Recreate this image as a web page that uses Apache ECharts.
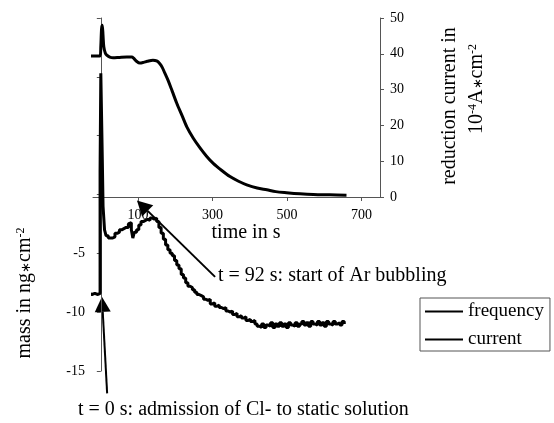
<!DOCTYPE html>
<html>
<head>
<meta charset="utf-8">
<script src="https://cdn.jsdelivr.net/npm/echarts@6/dist/echarts.min.js"></script>
<style>
html, body { margin: 0; padding: 0; background: #fff; }
#chart { width: 554px; height: 423px; }
</style>
</head>
<body>
<div id="chart"></div>
<script>
// time axis in s
const timeRange = [-21, 750]
const timeTicks = [100, 300, 500, 700]

// reduction current in 10^-4 A*cm^-2
const currentRange = [0, 50]
const currentTime = [-48, -20, -2, 0, 2, 4, 6, 8, 12, 16, 24, 33, 50, 70, 83, 88, 95, 105, 115, 125, 140, 150, 158, 165, 172, 181, 192, 204, 218, 231, 248, 266, 284, 302, 325, 347, 370, 392, 420, 446, 470, 499, 535, 571, 615, 660]
const currentValue = [39.4, 39.4, 39.4, 42, 47, 48, 45, 42, 40.2, 39.6, 39.1, 38.9, 39.0, 39.1, 39.1, 38.8, 38.0, 37.4, 37.6, 37.9, 38.2, 38.0, 37.3, 36.2, 34.6, 32.5, 29.5, 26.2, 22.8, 19.6, 16.5, 13.8, 11.4, 9.4, 7.4, 5.7, 4.4, 3.4, 2.5, 2.0, 1.5, 1.2, 0.9, 0.7, 0.6, 0.5]

// mass in ng*cm^-2 (from frequency)
const massRange = [-15, 15]
const massTime = [-48, -40, -32, -24, -16, -8, -4, -2, 0, 2, 4, 6, 10, 14, 20, 26, 32, 38, 44, 50, 56, 62, 68, 74, 78, 82, 86, 90, 96, 102, 108, 114, 120, 126, 132, 138, 144, 150, 156, 162, 168, 174, 180, 186, 192, 198, 204, 210, 216, 222, 228, 234, 240, 246, 252, 258, 264, 270, 276, 282, 288, 294, 300, 306, 312, 318, 324, 330, 336, 342, 348, 354, 360, 366, 372, 378, 384, 390, 396, 402, 408, 414, 420, 426, 432, 438, 444, 450, 456, 462, 468, 474, 480, 486, 492, 498, 504, 510, 516, 522, 528, 534, 540, 546, 552, 558, 564, 570, 576, 582, 588, 594, 600, 606, 612, 618, 624, 630, 636, 642, 648, 654]
const massValue = [-8.5, -8.4, -8.5, -8.4, -8.5, -8.5, -8.4, 2.0, 10.3, 10.3, 3.0, -1.0, -3.0, -3.5, -3.7, -3.7, -3.6, -3.3, -3.2, -3.0, -2.9, -2.8, -2.8, -2.5, -2.4, -3.0, -3.7, -3.2, -3.0, -2.6, -2.3, -2.2, -2.1, -2.2, -2.0, -2.1, -2.0, -2.3, -2.8, -3.3, -3.8, -4.3, -4.7, -5.0, -5.2, -5.6, -6.0, -6.3, -6.8, -7.1, -7.5, -7.8, -7.9, -8.1, -8.3, -8.5, -8.6, -8.7, -8.9, -9.0, -8.9, -9.3, -9.2, -9.5, -9.4, -9.6, -9.7, -9.6, -9.9, -10.0, -9.9, -10.2, -10.1, -10.4, -10.3, -10.5, -10.4, -10.7, -10.6, -10.8, -10.7, -11.0, -11.2, -11.3, -11.0, -11.3, -11.1, -11.2, -10.9, -11.3, -11.0, -11.2, -10.9, -11.2, -11.0, -11.3, -10.9, -11.1, -11.2, -10.9, -11.2, -11.0, -10.8, -11.1, -10.9, -11.2, -10.8, -11.0, -11.1, -10.8, -11.1, -10.9, -11.2, -10.8, -11.0, -11.1, -10.8, -11.0, -10.9, -11.1, -10.8, -11.0]

// annotation arrows as (time, mass): tail, tip
const arArrow = [[307, -7.0], [97, -0.5]]
const clArrow = [[17, -16.9], [3, -8.7]]

const serif = '"Liberation Serif", "Times New Roman", serif'
const axisGray = '#555'

const chart = echarts.init(document.getElementById('chart'))

chart.setOption({
  animation: false,
  backgroundColor: '#fff',
  textStyle: { fontFamily: serif, color: '#000' },
  grid: [
    { left: 93, right: 174, top: 18, height: 179 },
    { left: 93, right: 174, top: 18, height: 353 }
  ],
  legend: {
    data: ['frequency', 'current'],
    orient: 'vertical',
    left: 420,
    top: 298,
    icon: 'rect',
    itemWidth: 38,
    itemHeight: 2,
    itemGap: 9,
    padding: [4, 6, 2, 5],
    borderColor: axisGray,
    borderWidth: 1,
    backgroundColor: '#fff',
    textStyle: { fontFamily: serif, fontSize: 19, color: '#000' }
  },
  xAxis: [
    {
      type: 'value',
      gridIndex: 0,
      min: timeRange[0],
      max: timeRange[1],
      position: 'bottom',
      splitLine: { show: false },
      axisLine: { onZero: false, lineStyle: { color: axisGray, width: 1 } },
      axisTick: { customValues: timeTicks, length: 4, lineStyle: { color: axisGray } },
      axisLabel: { customValues: timeTicks, margin: 11, fontSize: 14, fontFamily: serif, color: '#000' }
    },
    {
      type: 'value',
      gridIndex: 1,
      min: timeRange[0],
      max: timeRange[1],
      show: false,
      axisLine: { onZero: false }
    }
  ],
  yAxis: [
    {
      type: 'value',
      gridIndex: 0,
      position: 'right',
      min: currentRange[0],
      max: currentRange[1],
      interval: 10,
      splitLine: { show: false },
      axisLine: { show: true, onZero: false, lineStyle: { color: axisGray, width: 1 } },
      axisTick: { show: true, length: 4, lineStyle: { color: axisGray } },
      axisLabel: { margin: 10, fontSize: 14, fontFamily: serif, color: '#000' }
    },
    {
      type: 'value',
      gridIndex: 1,
      position: 'left',
      min: massRange[0],
      max: massRange[1],
      interval: 5,
      splitLine: { show: false },
      axisLine: { show: true, onZero: true, lineStyle: { color: axisGray, width: 1 } },
      axisTick: { show: true, length: 4, lineStyle: { color: axisGray } },
      axisLabel: {
        margin: 8,
        fontSize: 14,
        fontFamily: serif,
        color: '#000',
        formatter: v => (v < 0 ? String(v) : '')
      }
    }
  ],
  series: [
    {
      name: 'frequency',
      type: 'line',
      xAxisIndex: 1,
      yAxisIndex: 1,
      step: 'end',
      symbol: 'none',
      clip: false,
      lineStyle: { color: '#000', width: 3 },
      itemStyle: { color: '#000' },
      data: massTime.map((t, i) => [t, massValue[i]])
    },
    {
      name: 'current',
      type: 'line',
      xAxisIndex: 0,
      yAxisIndex: 0,
      smooth: 0.3,
      symbol: 'none',
      clip: false,
      lineStyle: { color: '#000', width: 3 },
      itemStyle: { color: '#000' },
      data: currentTime.map((t, i) => [t, currentValue[i]])
    }
  ]
})

function arrow(pts) {
  const a = chart.convertToPixel({ gridIndex: 1 }, pts[0])
  const b = chart.convertToPixel({ gridIndex: 1 }, pts[1])
  const dx = b[0] - a[0]
  const dy = b[1] - a[1]
  const len = Math.hypot(dx, dy)
  const ux = dx / len
  const uy = dy / len
  const hl = 15
  const hw = 8
  const bx = b[0] - ux * hl
  const by = b[1] - uy * hl
  return [
    {
      type: 'line',
      shape: { x1: a[0], y1: a[1], x2: bx, y2: by },
      style: { stroke: '#000', lineWidth: 2 }
    },
    {
      type: 'polygon',
      shape: { points: [b, [bx - uy * hw, by + ux * hw], [bx + uy * hw, by - ux * hw]] },
      style: { fill: '#000' }
    }
  ]
}

const font20 = '20px ' + serif
const rich = {
  sup: { fontSize: 12, fontFamily: serif, verticalAlign: 'top', fill: '#000' },
  dot: { fontSize: 13, fontFamily: serif, verticalAlign: 'bottom', fill: '#000', padding: [0, 0, 2, 0] }
}

chart.setOption({
  graphic: [
    ...arrow(arArrow),
    ...arrow(clArrow),
    {
      type: 'text',
      x: 246,
      y: 233,
      style: { text: 'time in s', font: font20, fill: '#000', align: 'center', verticalAlign: 'middle' }
    },
    {
      type: 'text',
      x: 25,
      y: 293,
      rotation: Math.PI / 2,
      style: {
        text: 'mass in ng{dot|\u2217}cm{sup|-2}',
        font: font20,
        fill: '#000',
        align: 'center',
        verticalAlign: 'middle',
        rich: rich
      }
    },
    {
      type: 'text',
      x: 450,
      y: 106,
      rotation: Math.PI / 2,
      style: { text: 'reduction current in', font: font20, fill: '#000', align: 'center', verticalAlign: 'middle' }
    },
    {
      type: 'text',
      x: 477,
      y: 89,
      rotation: Math.PI / 2,
      style: {
        text: '10{sup|-4}A{dot|\u2217}cm{sup|-2}',
        font: font20,
        fill: '#000',
        align: 'center',
        verticalAlign: 'middle',
        rich: rich
      }
    },
    {
      type: 'text',
      x: 218,
      y: 276,
      style: { text: 't = 92 s: start of Ar bubbling', font: font20, fill: '#000', align: 'left', verticalAlign: 'middle' }
    },
    {
      type: 'text',
      x: 78,
      y: 410,
      style: { text: 't = 0 s: admission of Cl- to static solution', font: font20, fill: '#000', align: 'left', verticalAlign: 'middle' }
    }
  ]
})
</script>
</body>
</html>
